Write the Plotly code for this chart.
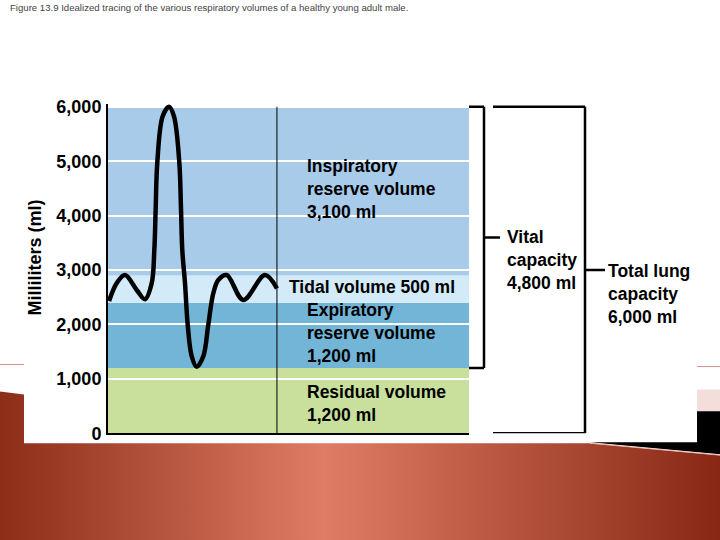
import plotly.graph_objects as go

# ---------------- data ----------------
title_text = "Figure 13.9 Idealized tracing of the various respiratory volumes of a healthy young adult male."

# spirometer tracing (time in arbitrary units 0-100, volume in ml)
trace_time = [0.3, 2.4, 4.7, 7.95, 10.25, 12.1, 12.83, 13.21, 13.66, 15.15, 16.9, 18.28, 19.75,
              20.22, 20.58, 21.33, 22.08, 23.19, 24.57, 26.4, 27.78, 29.17, 30.55, 32.88,
              37.48, 43.49, 46.8]
trace_volume = [2430, 2756, 2908, 2634, 2464, 2756, 3365, 4134, 4980, 5825, 6000, 5825, 4980,
                4134, 3365, 2760, 1994, 1414, 1220, 1414, 1994, 2573, 2817, 2908,
                2451, 2908, 2660]
trace_end = 46.8

# stacked volumes (bottom -> top)
volume_names = ["Residual volume", "Expiratory reserve volume", "Tidal volume", "Inspiratory reserve volume"]
volume_ml = [1200, 1200, 500, 3100]
volume_colors = ["#c8e09b", "#72b5d6", "#d3eaf8", "#a8cbea"]

volume_labels = [
    "Residual volume<br>1,200 ml",
    "Expiratory<br>reserve volume<br>1,200 ml",
    "Tidal volume 500 ml",
    "Inspiratory<br>reserve volume<br>3,100 ml",
]
label_x = [54.6, 54.6, 49.6, 54.6]
label_y = [549, 1835, 2689, 4491]

y_ticks = [0, 1000, 2000, 3000, 4000, 5000, 6000]

vital_capacity = (1200, 6000)
total_capacity = (0, 6000)

# ---------------- figure ----------------
W = 720
# the page is photographed with a small vertical offset/scale; lay out in page pixels
OFF, SC = 4.7, 0.9756
HF = 550


def Y(yref):
    """target picture y (px) -> page y (px)"""
    return (yref - OFF) / SC


def py(yref):
    """target picture y (px) -> paper fraction"""
    return 1 - Y(yref) / HF


def px(v):
    return v / W


fig = go.Figure()

# curve
fig.add_trace(go.Scatter(
    x=trace_time, y=trace_volume, mode="lines",
    line=dict(color="black", width=4.5, shape="spline", smoothing=1.0),
    hoverinfo="skip", showlegend=False, xaxis="x", yaxis="y",
))

# slide background decoration (pixel coordinates on a hidden full-page axis)
bg_x = [0, 24, 24, 590, 720, 720, 0, 0]
bg_y = [392, 395, 444, 444, 456, 545, 545, 392]
fig.add_trace(go.Scatter(
    x=bg_x, y=[Y(v) for v in bg_y],
    mode="lines", fill="toself", line=dict(width=0),
    fillgradient=dict(type="horizontal",
                      colorscale=[[0, "#8c2d18"], [0.45, "#df7c65"], [1, "#882814"]]),
    hoverinfo="skip", showlegend=False, xaxis="x2", yaxis="y2",
))

shapes = []
# bands
base = 0
for v, c in zip(volume_ml, volume_colors):
    shapes.append(dict(type="rect", xref="x", yref="y", x0=0, x1=100, y0=base, y1=base + v,
                       fillcolor=c, line=dict(width=0), layer="below"))
    base += v
# end-of-trace vertical line
shapes.append(dict(type="line", xref="x", yref="y", x0=trace_end, x1=trace_end, y0=0, y1=6000,
                   line=dict(color="black", width=1)))


def bracket(x0, x1, xt, ylo, yhi, lw=2.5):
    ym = (ylo + yhi) / 2
    return [
        dict(type="line", xref="paper", yref="y", x0=px(x0), x1=px(x1), y0=yhi, y1=yhi, line=dict(color="black", width=lw)),
        dict(type="line", xref="paper", yref="y", x0=px(x1), x1=px(x1), y0=ylo, y1=yhi, line=dict(color="black", width=lw)),
        dict(type="line", xref="paper", yref="y", x0=px(x0), x1=px(x1), y0=ylo, y1=ylo, line=dict(color="black", width=lw)),
        dict(type="line", xref="paper", yref="y", x0=px(x1), x1=px(xt), y0=ym, y1=ym, line=dict(color="black", width=lw)),
    ]


shapes += bracket(469, 484, 500, *vital_capacity)
shapes += bracket(493, 585, 605, *total_capacity)

# slide decorations (paper)
shapes.append(dict(type="line", xref="paper", yref="paper", x0=0, x1=px(24), y0=py(365), y1=py(365),
                   line=dict(color="#c99585", width=1)))
shapes.append(dict(type="line", xref="paper", yref="paper", x0=px(697), x1=1, y0=py(367), y1=py(367),
                   line=dict(color="#c99585", width=1)))
shapes.append(dict(type="rect", xref="paper", yref="paper", x0=px(697), x1=1, y0=py(412), y1=py(390),
                   fillcolor="#f3dedb", line=dict(width=0)))
pts = [(697, 412), (720, 412), (720, 455), (590, 443), (697, 443)]
path = "M " + " L ".join(f"{px(a):.5f},{py(b):.5f}" for a, b in pts) + " Z"
shapes.append(dict(type="path", xref="paper", yref="paper", path=path, fillcolor="black", line=dict(width=0)))
shapes.append(dict(type="line", xref="paper", yref="paper", x0=px(590), x1=1, y0=py(444), y1=py(456),
                   line=dict(color="#e9b9aa", width=1)))

FAM = "Liberation Sans, Arial"
font_b = dict(family=FAM, size=17.5, color="black", weight="bold")

annotations = []
for t, x, y in zip(volume_labels, label_x, label_y):
    annotations.append(dict(text=t, x=x, y=y, xref="x", yref="y", xanchor="left", yanchor="middle",
                            align="left", showarrow=False, font=font_b))
annotations.append(dict(text="Vital<br>capacity<br>4,800 ml", x=px(505), y=sum(vital_capacity) / 2,
                        xref="paper", yref="y", xanchor="left", yanchor="top", yshift=12,
                        align="left", showarrow=False, font=font_b))
annotations.append(dict(text="Total lung<br>capacity<br>6,000 ml", x=px(606), y=sum(total_capacity) / 2,
                        xref="paper", yref="y", xanchor="left", yanchor="top", yshift=11,
                        align="left", showarrow=False, font=font_b))
annotations.append(dict(text=title_text, x=px(8), y=py(6.5), xref="paper", yref="paper",
                        xanchor="left", yanchor="middle", showarrow=False,
                        font=dict(family=FAM, size=9.6, color="#444444")))
annotations.append(dict(text="Milliliters (ml)", x=px(35), y=py(257.5), xref="paper", yref="paper",
                        xanchor="center", yanchor="middle", textangle=-90, showarrow=False,
                        font=dict(family=FAM, size=18, color="black", weight="bold")))

y_lo_px, y_hi_px = 434, 106
y_top = 6060
top_px = y_lo_px - (y_lo_px - y_hi_px) * y_top / 6000

fig.update_layout(
    width=W, height=HF,
    margin=dict(l=0, r=0, t=0, b=0),
    paper_bgcolor="white", plot_bgcolor="rgba(0,0,0,0)",
    shapes=shapes, annotations=annotations,
    xaxis=dict(domain=[108 / W, 469 / W], range=[0, 100], showgrid=False, zeroline=False,
               showticklabels=False, ticks="", showline=True, linecolor="black", linewidth=2),
    yaxis=dict(domain=[py(y_lo_px), py(top_px)], range=[0, y_top], tickvals=y_ticks,
               tickformat=",", showgrid=True, gridcolor="white", gridwidth=2, zeroline=False,
               showline=True, linecolor="black", linewidth=2, ticks="", ticklabelstandoff=1,
               tickfont=dict(family=FAM, size=18, color="black", weight="bold")),
    xaxis2=dict(domain=[0, 1], range=[0, W], visible=False, anchor="y2", fixedrange=True),
    yaxis2=dict(domain=[0, 1], range=[HF, 0], visible=False, anchor="x2", fixedrange=True),
    showlegend=False,
)

post = (
    "var de=document.documentElement,b=document.body;"
    "de.style.margin='0';de.style.padding='0';"
    "b.style.margin='0';b.style.padding='0';b.style.overflow='hidden';"
)
fig.write_html("out.html", config={"displayModeBar": False}, post_script=post)
